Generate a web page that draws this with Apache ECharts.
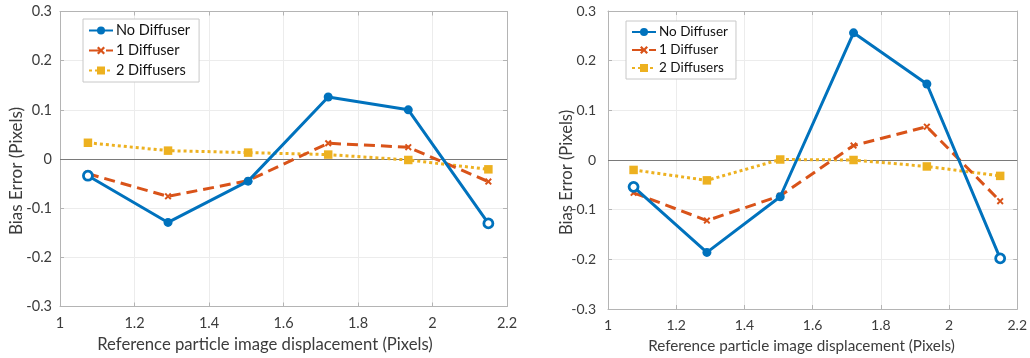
<!DOCTYPE html>
<html><head><meta charset="utf-8">
<script src="https://cdn.jsdelivr.net/npm/echarts@6/dist/echarts.min.js"></script>
<style>html,body{margin:0;padding:0;background:#fff}#c{width:1030px;height:358px}</style>
</head><body><div id="c"></div>
<script>
const xValues = [1.075, 1.29, 1.505, 1.72, 1.935, 2.15];
const seriesNames = ['No Diffuser', '1 Diffuser', '2 Diffusers'];
// left panel
const leftNoDiffuser = [-0.034, -0.129, -0.045, 0.126, 0.100, -0.131];
const leftOneDiffuser = [-0.030, -0.076, -0.044, 0.032, 0.024, -0.046];
const leftTwoDiffusers = [0.033, 0.017, 0.013, 0.009, -0.002, -0.021];
// right panel
const rightNoDiffuser = [-0.054, -0.186, -0.074, 0.256, 0.153, -0.198];
const rightOneDiffuser = [-0.066, -0.122, -0.072, 0.029, 0.067, -0.083];
const rightTwoDiffusers = [-0.020, -0.041, 0.001, 0.000, -0.013, -0.032];
const xTicks = [1, 1.2, 1.4, 1.6, 1.8, 2, 2.2];
const yTicks = [-0.3, -0.2, -0.1, 0, 0.1, 0.2, 0.3];
const xTitle = 'Reference particle image displacement (Pixels)';
const yTitle = 'Bias Error (Pixels)';

const FONT = 'Lato';
const TXT = '#3c3c3c';
const AX = '#b4b4b4';
const colors = ['#0072BD', '#D95319', '#EDB120'];
const xMark = 'path://M2,0 L5,3 L8,0 L10,2 L7,5 L10,8 L8,10 L5,7 L2,10 L0,8 L3,5 L0,2 Z';

function pairs(ys) { return xValues.map((x, i) => [x, ys[i]]); }
function blueData(ys) {
  return pairs(ys).map((p, i) => (i === 0 || i === ys.length - 1)
    ? { value: p, symbol: 'circle', itemStyle: { color: '#fff', borderColor: colors[0], borderWidth: 2.8 } }
    : { value: p });
}
const fmt = v => String(+v.toFixed(1));

function axesFor(gi, p) {
  const xa = {
    type: 'value', gridIndex: gi, min: xTicks[0], max: xTicks[xTicks.length - 1], interval: 0.2,
    axisLine: { show: true, onZero: false, lineStyle: { color: AX, width: 1 } },
    axisTick: { show: true, inside: true, length: 4, lineStyle: { color: AX } },
    axisLabel: { color: TXT, fontFamily: FONT, fontSize: p.tick, margin: p.xm, formatter: fmt },
    splitLine: { show: true, lineStyle: { color: '#ececec', width: 1 } }
  };
  const xaTop = {
    type: 'value', gridIndex: gi, min: xTicks[0], max: xTicks[xTicks.length - 1], interval: 0.2, position: 'top',
    axisLine: { show: true, onZero: false, lineStyle: { color: AX, width: 1 } },
    axisTick: { show: true, inside: true, length: 4, lineStyle: { color: AX } },
    axisLabel: { show: false }, splitLine: { show: false }
  };
  const ya = {
    type: 'value', gridIndex: gi, min: yTicks[0], max: yTicks[yTicks.length - 1], interval: 0.1,
    axisLine: { show: true, onZero: false, lineStyle: { color: AX, width: 1 } },
    axisTick: { show: true, inside: true, length: 4, lineStyle: { color: AX } },
    axisLabel: { color: TXT, fontFamily: FONT, fontSize: p.tick, margin: p.ym, formatter: fmt },
    splitLine: { show: true, lineStyle: { color: '#ececec', width: 1 } }
  };
  const yaRight = {
    type: 'value', gridIndex: gi, min: yTicks[0], max: yTicks[yTicks.length - 1], interval: 0.1, position: 'right',
    axisLine: { show: true, onZero: false, lineStyle: { color: AX, width: 1 } },
    axisTick: { show: true, inside: true, length: 4, lineStyle: { color: AX } },
    axisLabel: { show: false }, splitLine: { show: false }
  };
  return { xa, xaTop, ya, yaRight };
}
const a0 = axesFor(0, { tick: 14.5, xm: 9, ym: 8 });
const a1 = axesFor(1, { tick: 14, xm: 9, ym: 12 });

function makeSeries(gi, blue, red, yellow) {
  const xi = gi * 2, yi = gi * 2;
  return [
    { name: seriesNames[0], type: 'line', xAxisIndex: xi, yAxisIndex: yi, data: blueData(blue),
      symbol: 'circle', symbolSize: 9, color: colors[0], lineStyle: { width: 3, color: colors[0] },
      itemStyle: { color: colors[0] }, z: 4,
      markLine: { silent: true, symbol: 'none', label: { show: false },
        lineStyle: { color: '#7a7a7a', width: 1, type: 'solid' }, data: [{ yAxis: 0 }], z: 1 } },
    { name: seriesNames[1], type: 'line', xAxisIndex: xi, yAxisIndex: yi, data: pairs(red),
      symbol: xMark, symbolSize: 7, color: colors[1], lineStyle: { width: 3, color: colors[1], type: [11, 6] },
      itemStyle: { color: colors[1] }, z: 3 },
    { name: seriesNames[2], type: 'line', xAxisIndex: xi, yAxisIndex: yi, data: pairs(yellow),
      symbol: 'rect', symbolSize: 8.5, color: colors[2], lineStyle: { width: 3, color: colors[2], type: [3, 3] },
      itemStyle: { color: colors[2] }, z: 2 }
  ];
}

function legendFor(left, top, fs, gap, rightPad) {
  return {
    orient: 'vertical', left: left, top: top, backgroundColor: '#fff', borderColor: '#c8c8c8', borderWidth: 1,
    borderRadius: 0, padding: [4, rightPad, 4, 5], itemGap: gap, itemWidth: 24, itemHeight: 10,
    textStyle: { color: '#111', fontFamily: FONT, fontSize: fs, padding: [0, 0, 0, -2] },
    data: seriesNames.map(n => ({ name: n }))
  };
}

function title(text, x, y, fs, vertical) {
  return {
    type: 'text', x: x, y: y, rotation: vertical ? Math.PI / 2 : 0, silent: true,
    style: { text: text, fontFamily: FONT, fontSize: fs, fill: TXT, align: 'center', verticalAlign: 'middle' }
  };
}

const chart = echarts.init(document.getElementById('c'), null, { renderer: 'canvas' });
chart.setOption({
  animation: false,
  grid: [
    { left: 60, top: 11.5, width: 447, height: 295, show: false },
    { left: 608, top: 11, width: 412, height: 298, show: false }
  ],
  legend: [legendFor(83, 19, 14.5, 5, 9), legendFor(626, 21, 13.5, 4, 8)],
  xAxis: [a0.xa, a0.xaTop, a1.xa, a1.xaTop],
  yAxis: [a0.ya, a0.yaRight, a1.ya, a1.yaRight],
  graphic: [
    title(xTitle, 265, 345, 16.7, false),
    title(yTitle, 17, 171, 17, true),
    title(xTitle, 801.5, 346, 15.25, false),
    title(yTitle, 567, 172.5, 16.6, true)
  ],
  series: [
    ...makeSeries(0, leftNoDiffuser, leftOneDiffuser, leftTwoDiffusers),
    ...makeSeries(1, rightNoDiffuser, rightOneDiffuser, rightTwoDiffusers)
  ]
});
</script></body></html>
